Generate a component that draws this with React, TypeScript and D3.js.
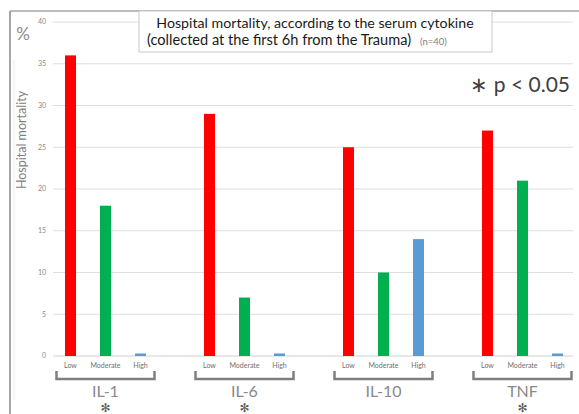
import React from "react";
import * as d3 from "d3";

const groups = ["IL-1", "IL-6", "IL-10", "TNF"];
const levels = ["Low", "Moderate", "High"];
const lowValues = [36, 29, 25, 27];
const moderateValues = [18, 7, 10, 21];
const highValues = [0.3, 0.3, 14, 0.3];
const significant = [true, true, false, true];
const yTicks = [0, 5, 10, 15, 20, 25, 30, 35, 40];
const levelColors = ["#ff0000", "#00b050", "#5b9bd5"];

const W = 579;
const H = 414;
const FONT = "Lato, 'Open Sans', sans-serif";

export default function App() {
  const series = [lowValues, moderateValues, highValues];
  const y = d3.scaleLinear().domain([0, 40]).range([356, 22]);
  const xGroup = d3.scaleBand<string>().domain(groups).range([36, 592]).padding(0);
  const xLevel = d3.scaleBand<string>().domain(levels).range([-52.5, 52.5]).padding(0);
  const barW = 11;
  const gridX0 = 53;
  const gridX1 = 573;
  const center = (g: string) => (xGroup(g) as number) + xGroup.bandwidth() / 2;
  const levelCenter = (l: string) => (xLevel(l) as number) + xLevel.bandwidth() / 2;

  return (
    <svg width={W} height={H} style={{ position: "absolute", left: 0, top: 0, background: "#fff" }}>
      <rect x={0} y={0} width={W} height={H} fill="#fff" />
      {/* frame */}
      <line x1={10} y1={11} x2={W} y2={11} stroke="#a6a6a6" strokeWidth={1.5} />
      <line x1={10} y1={11} x2={10} y2={H} stroke="#a6a6a6" strokeWidth={2} />
      <line x1={14} y1={60} x2={14} y2={400} stroke="#ececec" strokeWidth={1} />

      {/* gridlines */}
      {yTicks.map((t) => (
        <g key={t}>
          <line x1={gridX0} x2={gridX1} y1={y(t)} y2={y(t)} stroke={t === 0 ? "#d0d0d0" : "#dedede"} strokeWidth={1} />
          <text x={46} y={y(t)} dy="0.35em" textAnchor="end" fontSize={7} fill="#8a8a8a" fontFamily={FONT}>
            {t}
          </text>
        </g>
      ))}

      {/* title box */}
      <rect x={139} y={11} width={353} height={41} fill="#fff" stroke="#c8c8c8" strokeWidth={1} />
      <text x={315} y={28} textAnchor="middle" fontSize={14.2} fill="#1a1a1a" fontFamily={FONT}>
        Hospital mortality, according to the serum cytokine
      </text>
      <text x={147} y={45} textAnchor="start" fontSize={14.6} fill="#1a1a1a" fontFamily={FONT}>
        (collected at the first 6h from the Trauma)
      </text>
      <text x={420} y={45} textAnchor="start" fontSize={9.5} fill="#808080" fontFamily={FONT}>
        (n=40)
      </text>

      {/* axis labels */}
      <text x={23} y={40} textAnchor="middle" fontSize={17} fill="#8a8a8a" fontFamily={FONT}>
        %
      </text>
      <text
        transform={`translate(26,140) rotate(-90)`}
        textAnchor="middle"
        fontSize={12.5}
        fill="#808080"
        fontFamily={FONT}
      >
        Hospital mortality
      </text>

      <text x={570} y={92} textAnchor="end" fontSize={21} fill="#404040" fontFamily={FONT}>
        ∗ p &lt; 0.05
      </text>

      {/* bars */}
      {groups.map((g, gi) =>
        levels.map((l, li) => {
          const v = series[li][gi];
          const cx = center(g) + levelCenter(l);
          return (
            <rect
              key={g + l}
              x={cx - barW / 2}
              y={y(v)}
              width={barW}
              height={y(0) - y(v)}
              fill={levelColors[li]}
            />
          );
        })
      )}

      {/* category labels, brackets, group labels */}
      {groups.map((g, gi) => {
        const c = center(g);
        return (
          <g key={g}>
            {levels.map((l) => (
              <text
                key={l}
                x={c + levelCenter(l)}
                y={368}
                textAnchor="middle"
                fontSize={7}
                fill="#707070"
                fontFamily={FONT}
              >
                {l}
              </text>
            ))}
            <path
              d={`M${c - 49},371 V379 H${c + 49} V371`}
              fill="none"
              stroke="#7f7f7f"
              strokeWidth={2.5}
            />
            <text x={c} y={397} textAnchor="middle" fontSize={16} fill="#8a8a8a" fontFamily={FONT}>
              {g}
            </text>
            {significant[gi] && (
              <text
                x={c}
                y={408}
                dominantBaseline="central"
                textAnchor="middle"
                fontSize={12}
                fill="#555"
                fontFamily="'DejaVu Sans', sans-serif"
              >
                ✻
              </text>
            )}
          </g>
        );
      })}
    </svg>
  );
}
